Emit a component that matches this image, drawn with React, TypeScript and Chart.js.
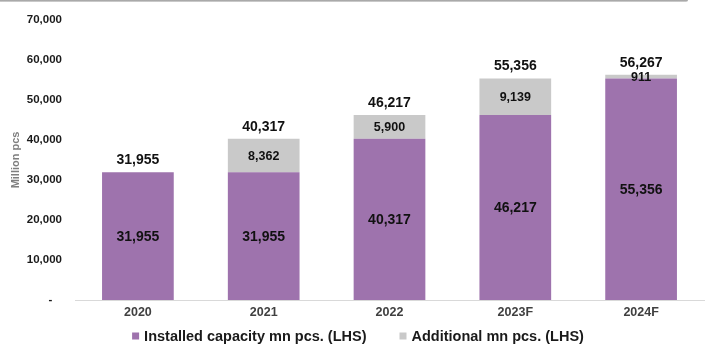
import React, { useEffect, useRef } from "react";
import { Chart, registerables } from "chart.js";

Chart.register(...registerables);

const categories = ["2020", "2021", "2022", "2023F", "2024F"];
const installed = [31955, 31955, 40317, 46217, 55356];
const additional = [0, 8362, 5900, 9139, 911];
const totals = [31955, 40317, 46217, 55356, 56267];
const seriesNames = ["Installed capacity mn pcs. (LHS)", "Additional mn pcs. (LHS)"];
const yTicks = [0, 10000, 20000, 30000, 40000, 50000, 60000, 70000];
const yTitle = "Million pcs";

const PURPLE = "#9E73AD";
const GRAY = "#C9C9C9";
const FONT = "'Liberation Sans', Arial, sans-serif";

const fmt = (v: number) => v.toLocaleString("en-US");

const labelPlugin = {
  id: "valueLabels",
  afterDatasetsDraw(chart: any) {
    const ctx = chart.ctx;
    ctx.save();
    ctx.textAlign = "center";
    ctx.fillStyle = "#111";
    const m0 = chart.getDatasetMeta(0);
    const m1 = chart.getDatasetMeta(1);
    m0.data.forEach((el: any, i: number) => {
      ctx.font = `bold 14px ${FONT}`;
      ctx.textBaseline = "middle";
      ctx.fillText(fmt(installed[i]), el.x, (el.y + el.base) / 2 + 1);
    });
    m1.data.forEach((el: any, i: number) => {
      if (!additional[i]) return;
      ctx.font = `bold 12.5px ${FONT}`;
      ctx.textBaseline = "middle";
      ctx.fillText(fmt(additional[i]), el.x, (el.y + el.base) / 2 + 1);
    });
    m0.data.forEach((el: any, i: number) => {
      const top = Math.min(el.y, m1.data[i].y);
      ctx.font = `bold 14px ${FONT}`;
      ctx.textBaseline = "bottom";
      ctx.fillText(fmt(totals[i]), el.x, top - 5);
    });

    // legend
    ctx.font = `bold 14.5px ${FONT}`;
    ctx.textAlign = "left";
    ctx.textBaseline = "middle";
    const box = 7;
    const gap = 5;
    const spacing = 33;
    const ds = chart.data.datasets;
    const widths = ds.map((d: any) => box + gap + ctx.measureText(d.label).width);
    const total = widths.reduce((a: number, b: number) => a + b, 0) + spacing * (ds.length - 1);
    let x = chart.width / 2 + 5 - total / 2;
    const y = 336;
    ds.forEach((d: any, i: number) => {
      ctx.fillStyle = d.backgroundColor;
      ctx.fillRect(x, y - box / 2, box, box);
      ctx.fillStyle = "#1a1a1a";
      ctx.fillText(d.label, x + box + gap, y + 1);
      x += widths[i] + spacing;
    });
    ctx.restore();
  },
};

export default function App() {
  const ref = useRef<HTMLCanvasElement | null>(null);
  useEffect(() => {
    if (!ref.current) return;
    const chart = new Chart(ref.current, {
      type: "bar",
      data: {
        labels: categories,
        datasets: [
          { label: seriesNames[0], data: installed, backgroundColor: PURPLE, stack: "s" },
          { label: seriesNames[1], data: additional, backgroundColor: GRAY, stack: "s" },
        ],
      },
      options: {
        responsive: false,
        animation: false,
        layout: { padding: { top: 13, right: 2, left: 0, bottom: 27 } },
        datasets: { bar: { categoryPercentage: 1, barPercentage: 0.57 } },
        plugins: {
          tooltip: { enabled: false },
          legend: { display: false },
        },
        scales: {
          x: {
            stacked: true,
            grid: { display: false, drawTicks: false },
            border: { display: true, color: "#d9d9d9" },
            ticks: { color: "#404040", padding: 5, font: { family: FONT, size: 12.5, weight: "bold" } },
          },
          y: {
            stacked: true,
            min: 0,
            max: 70000,
            afterBuildTicks: (s: any) => {
              s.ticks = yTicks.map((v) => ({ value: v }));
            },
            afterFit: (s: any) => {
              s.width = 75;
            },
            grid: { display: false, drawTicks: false },
            border: { display: false },
            title: {
              display: true,
              text: yTitle,
              color: "#7f7f7f",
              padding: { top: 9, bottom: 0 },
              font: { family: FONT, size: 11, weight: "bold" },
            },
            ticks: {
              padding: 13,
              color: "#1a1a1a",
              font: { family: FONT, size: 11.5, weight: "bold" },
              callback: (v: any) => (Number(v) === 0 ? "-   " : fmt(Number(v))),
            },
          },
        },
      },
      plugins: [labelPlugin],
    } as any);
    return () => chart.destroy();
  }, []);
  return (
    <div style={{ position: "fixed", left: 0, top: 0, width: 706, height: 352, background: "#fff" }}>
      <div
        style={{
          position: "absolute",
          left: 0,
          top: 0,
          width: 688,
          height: 2,
          background: "linear-gradient(#9a9a9a, #d8d8d8)",
          borderBottomRightRadius: 3,
        }}
      />
      <canvas ref={ref} width={706} height={352} style={{ display: "block" }} />
    </div>
  );
}
